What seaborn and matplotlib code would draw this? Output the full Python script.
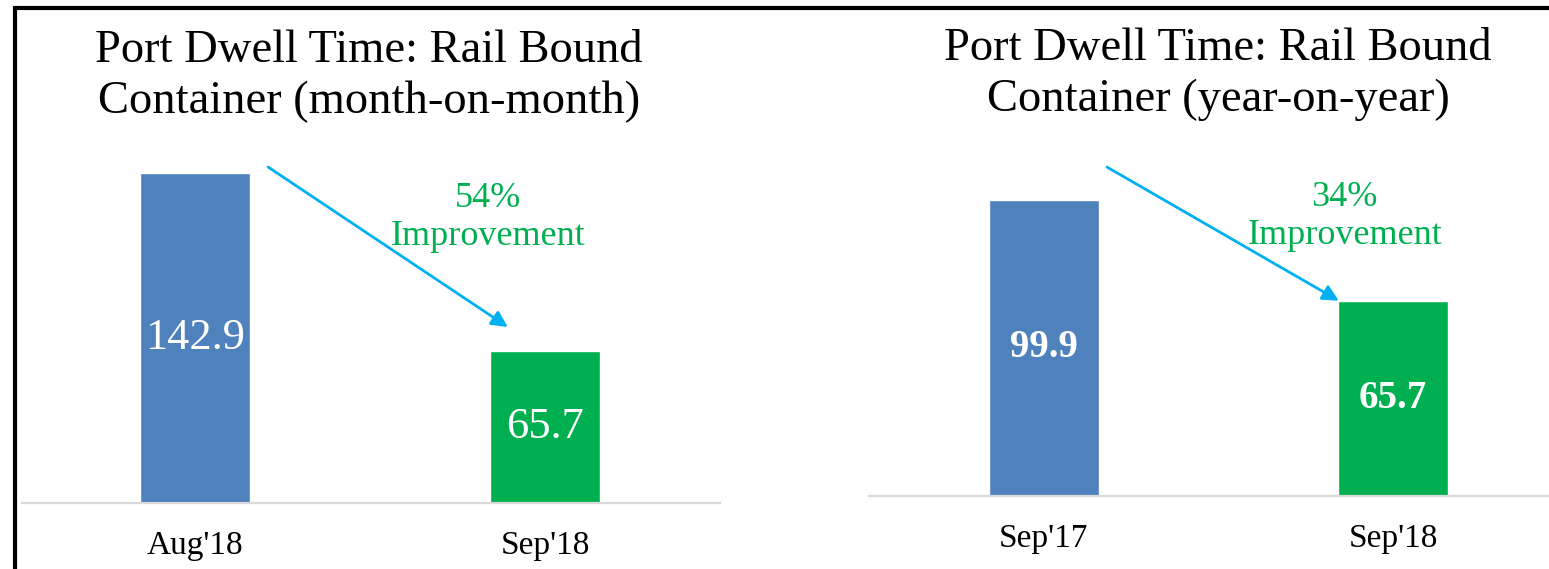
import matplotlib
matplotlib.use("Agg")
import matplotlib.pyplot as plt
from matplotlib.patches import Rectangle
import seaborn as sns

# data
mom_labels = ["Aug'18", "Sep'18"]
mom_values = [142.9, 65.7]
yoy_labels = ["Sep'17", "Sep'18"]
yoy_values = [99.9, 65.7]
mom_title = ["Port Dwell Time: Rail Bound", "Container (month-on-month)"]
yoy_title = ["Port Dwell Time: Rail Bound", "Container (year-on-year)"]
mom_note = "54%\nImprovement"
yoy_note = "34%\nImprovement"

BLUE = "#4F81BD"
GREEN = "#00B050"
ARROW = "#00B0F0"

sns.set_theme(style="white")
plt.rcParams["font.family"] = ["Liberation Serif", "DejaVu Serif"]

W, H = 1549, 569
fig = plt.figure(figsize=(W / 100, H / 100), dpi=100)


def px_axes(left, right, bottom, top):
    return fig.add_axes([left / W, 1 - bottom / H, (right - left) / W, (bottom - top) / H])


def panel(ax, labels, values, ymax, xlim, bold, valsize, note, note_xy, arrow_from, arrow_to):
    sns.barplot(x=labels, y=values, hue=labels, palette=[BLUE, GREEN],
                legend=False, width=0.314, saturation=1, ax=ax)
    ax.set_ylim(0, ymax)
    ax.set_xlim(*xlim)
    sns.despine(ax=ax, left=True)
    ax.spines["bottom"].set_color("#D9D9D9")
    ax.spines["bottom"].set_linewidth(1.6)
    ax.set_yticks([])
    ax.set_xlabel("")
    ax.set_ylabel("")
    ax.tick_params(axis="x", length=0, pad=20, labelsize=24, colors="black")
    for c in ax.containers:
        ax.bar_label(c, fmt="%.1f", label_type="center", color="white",
                     fontsize=valsize, fontweight="bold" if bold else "normal")
    ax.annotate("", xy=arrow_to, xytext=arrow_from,
                arrowprops=dict(arrowstyle="-|>", color=ARROW, lw=2,
                                mutation_scale=24, shrinkA=0, shrinkB=0))
    ax.text(note_xy[0], note_xy[1], note, color=GREEN, fontsize=26,
            ha="center", va="center", linespacing=1.2)


ax1 = px_axes(22, 720, 503, 10)
panel(ax1, mom_labels, mom_values, 493 / 2.309, (-0.494, 1.5), False, 32,
      mom_note, (0.837, 123.5),
      (0.209, mom_values[0] + 2.6), (0.894, mom_values[1] + 10.5))

ax2 = px_axes(869, W, 496, 10)
panel(ax2, yoy_labels, yoy_values, 486 / 2.963, (-0.501, 1.447), True, 28,
      yoy_note, (0.862, 94.4),
      (0.181, yoy_values[0] + 11.1), (0.845, yoy_values[1] + 0.2))

# titles, two lines each
for cx, lines, bases in [(369, mom_title, (62, 113)), (1218, yoy_title, (60, 111))]:
    for line, by in zip(lines, bases):
        fig.text(cx / W, 1 - by / H, line, ha="center", va="baseline",
                 fontsize=33.5, color="black")

# black frame on top and left, cut off at right and bottom
top = 1 - 8 / H
fig.patches.append(Rectangle((15 / W, -0.1), 1.2, top + 0.1,
                             transform=fig.transFigure, fill=False,
                             edgecolor="black", linewidth=3, clip_on=False))

fig.savefig("out.png", dpi=100)
